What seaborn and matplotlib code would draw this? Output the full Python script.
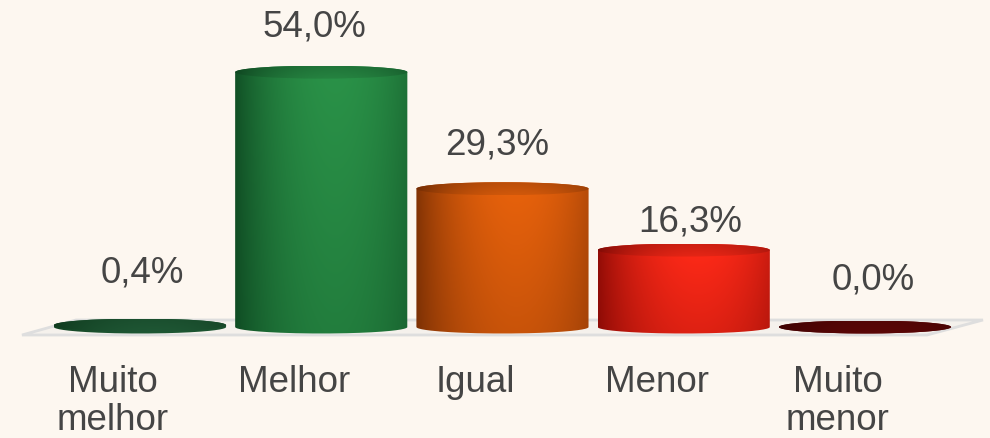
import numpy as np
import pandas as pd
import seaborn as sns
import matplotlib.pyplot as plt
from matplotlib.colors import to_rgb
from matplotlib.patches import Ellipse, Polygon, PathPatch
from matplotlib.path import Path

categories = ['Muito\nmelhor', 'Melhor', 'Igual', 'Menor', 'Muito\nmenor']
values = [0.4, 54.0, 29.3, 16.3, 0.0]
value_labels = ['0,4%', '54,0%', '29,3%', '16,3%', '0,0%']
dark_colors = ['#0E3A1C', '#0B401D', '#6A2803', '#7A0603', '#3E0202']
light_colors = ['#22603A', '#2A9248', '#E8620C', '#FF2A18', '#650707']

sns.set_style('white')
plt.rcParams['font.family'] = ['Liberation Sans', 'DejaVu Sans']

bg = '#FDF7F0'
txt = '#454545'
fig = plt.figure(figsize=(9.9, 4.38), dpi=100, facecolor=bg)
ax = fig.add_axes([0, 0, 1, 1])
ax.set_facecolor(bg)

df = pd.DataFrame({'cat': categories, 'val': values})
sns.barplot(data=df, x='cat', y='val', hue='cat', palette=light_colors,
            width=0.95, legend=False, ax=ax)
bars = list(ax.patches)

# pixel scale of the picture
sx = 181.25
sy = 4.72
xlim = (-140 / sx, (990 - 140) / sx)
ylim = (-(438 - 327) / sy, 327 / sy)
eh = 6.5 / sy

def px(x, y):
    return ((x - 140) / sx, (327 - y) / sy)

# floor
floor = Polygon([px(22, 335), px(76, 320), px(983, 320), px(927, 335)],
                closed=True, facecolor='#F5F1EC', edgecolor='#DEDEDE', lw=2, zorder=1)
ax.add_patch(floor)

def shade(dark, light, top_k=1.0, bottom_k=0.75, darken=1.0):
    t = np.linspace(0, 1, 200)
    f = np.clip(1 - ((t - 0.58) / 0.62) ** 2, 0, 1) ** 0.8
    s = np.linspace(top_k, bottom_k, 60)[:, None]
    d = np.array(to_rgb(dark))
    l = np.array(to_rgb(light))
    img = d + (l - d) * (f[None, :, None] * s[:, :, None])
    return np.clip(img * darken, 0, 1)

for i, bar in enumerate(bars):
    bar.set_alpha(0)
    x0 = bar.get_x()
    w = bar.get_width()
    h = bar.get_height()
    cx = x0 + w / 2
    a = w / 2
    th1 = np.linspace(np.pi, 0, 80)
    th2 = np.linspace(0, -np.pi, 80)
    xs = np.concatenate([cx + a * np.cos(th1), cx + a * np.cos(th2)])
    ys = np.concatenate([h + eh * np.sin(th1), eh * np.sin(th2)])
    body = PathPatch(Path(np.column_stack([xs, ys])), facecolor='none', edgecolor='none')
    ax.add_patch(body)
    im = ax.imshow(shade(dark_colors[i], light_colors[i]), extent=[x0, x0 + w, -eh, h + eh],
                   aspect='auto', interpolation='bilinear', zorder=2)
    im.set_clip_path(body)

    top = Ellipse((cx, h), w, 2 * eh, facecolor='none', edgecolor='none')
    ax.add_patch(top)
    im2 = ax.imshow(shade(dark_colors[i], light_colors[i], 0.8, 1.0, 0.9),
                    extent=[x0, x0 + w, h - eh, h + eh],
                    aspect='auto', interpolation='bilinear', zorder=3)
    im2.set_clip_path(top)

label_dx = [2, -7, -5, 6, 8]
label_dy = [52, 45, 44, 28, 47]
for i, bar in enumerate(bars):
    cx = bar.get_x() + bar.get_width() / 2
    ax.text(cx + label_dx[i] / sx, bar.get_height() + label_dy[i] / sy, value_labels[i],
            ha='center', va='center', fontsize=26.5, color=txt)
    ax.text(i - 27 / sx, (327 - 365) / sy, categories[i], ha='center', va='top',
            fontsize=26.5, color=txt, linespacing=1.1)

ax.set_xlim(*xlim)
ax.set_ylim(*ylim)
ax.axis('off')

fig.savefig('out.png', dpi=100, facecolor=bg)
